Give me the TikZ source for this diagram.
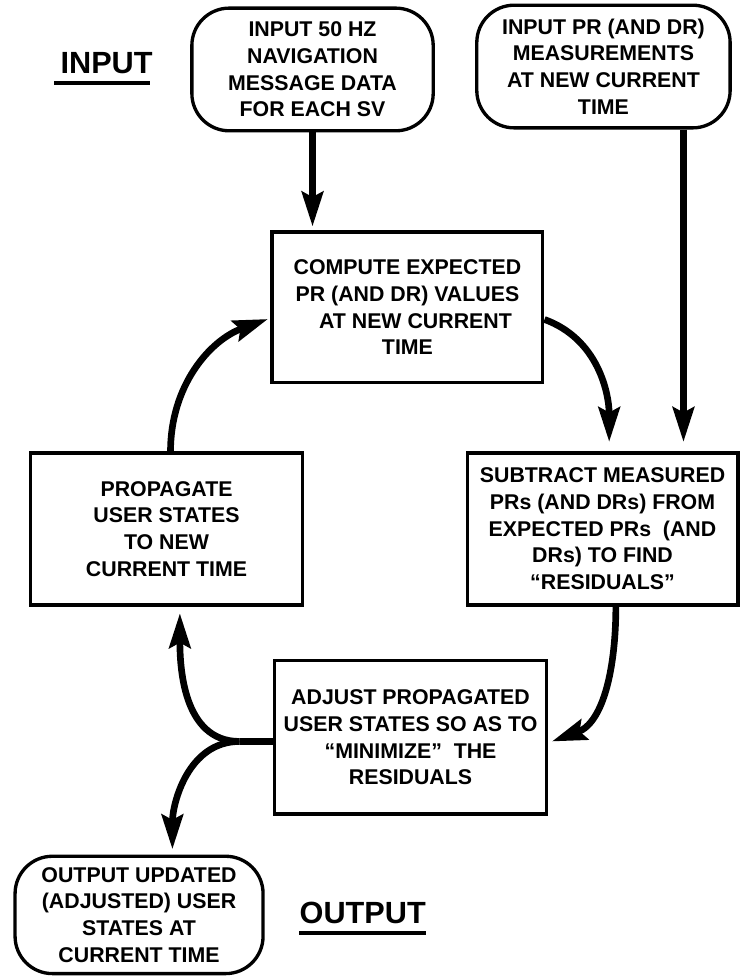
\documentclass[tikz,border=0pt]{standalone}
\usepackage{fontspec}
\setmainfont{Liberation Sans}
\usetikzlibrary{positioning, arrows.meta, calc}

\begin{document}
\begin{tikzpicture}[x=1pt, y=1pt, >={Stealth[length=26pt,width=16pt,inset=4pt]},
  proc/.style={draw,line width=2.5pt,minimum width=204pt,minimum height=114pt,inner sep=0pt,align=center,font=\fontsize{16}{20}\selectfont\bfseries},
  io/.style={proc,rounded corners=28pt,minimum width=186pt,minimum height=92pt},
  lbl/.style={inner sep=0pt,font=\fontsize{23}{27}\selectfont\bfseries},
  flow/.style={line width=5pt}]
  \useasboundingbox (0,0) rectangle (555,732);
  % inputs
  \node[io, minimum width=181pt] (nav) at (234.4,679.9) {INPUT 50 HZ\\NAVIGATION\\MESSAGE DATA\\FOR EACH SV};
  \node[io, minimum width=190pt] (meas) at (452.6,682.1) {INPUT PR (AND DR)\\MEASUREMENTS\\AT NEW CURRENT\\TIME};
  \node[lbl, left=28pt of nav, yshift=5pt] (inlbl) {INPUT};
  % loop
  \node[proc, minimum width=203pt, minimum height=113pt] (comp) at (305.6,501.4) {COMPUTE EXPECTED\\PR (AND DR) VALUES\\\hspace*{12pt}AT NEW CURRENT\\TIME};
  \node[proc] (prop) at (124.9,335.3) {PROPAGATE\\USER STATES\\TO NEW\\CURRENT TIME};
  \node[proc, minimum width=203pt] (subt) at (451.9,335.3) {SUBTRACT MEASURED\\PRs (AND DRs) FROM\\EXPECTED PRs\ \ (AND\\DRs) TO FIND\\``RESIDUALS''};
  \node[proc, minimum height=115pt] (adj) at (307.9,178.9) {ADJUST PROPAGATED\\USER STATES SO AS TO\\``MINIMIZE''\ \ THE\\RESIDUALS};
  % output
  \node[io, minimum height=88pt] (out) at (104.3,45.8) {OUTPUT UPDATED\\(ADJUSTED) USER\\STATES AT\\CURRENT TIME};
  \node[lbl, right=26pt of out, yshift=1.5pt] (outlbl) {OUTPUT};
  \draw[line width=3pt] ($(inlbl.south west)+(-4.5pt,-6.7pt)$) -- ($(inlbl.south east)+(-2pt,-6.7pt)$);
  \draw[line width=3pt] ($(outlbl.south west)+(0pt,-6.7pt)$) -- ($(outlbl.south east)+(0pt,-6.7pt)$);
  % connectors
  \coordinate (fork) at ($(adj.west)+(-25pt,-3pt)$);
  \draw[->,flow,shorten >=3pt] (nav.south) -- (nav.south |- comp.north);
  \draw[->,flow,shorten >=7pt] ([xshift=60pt]meas.south) -- ([xshift=60pt]meas.south |- subt.north);
  \draw[->,flow,shorten >=7pt] ([yshift=-9pt]comp.east) to[out=-20,in=90] ([xshift=5pt]subt.north);
  \draw[->,flow,shorten >=3pt] ([xshift=10pt]subt.south) to[out=-90,in=20] ([yshift=-4pt]adj.east);
  \draw[flow] ([yshift=-3pt]adj.west) -- (fork);
  \draw[->,flow,shorten >=5pt] (fork) to[out=180,in=-90] ([xshift=10pt]prop.south);
  \draw[->,flow,shorten >=4pt] (fork) to[out=180,in=90] ([xshift=25pt]out.north);
  \draw[->,flow,shorten >=2pt] ([xshift=3pt]prop.north) to[out=90,in=200] ([yshift=-8pt]comp.west);
\end{tikzpicture}
\end{document}
